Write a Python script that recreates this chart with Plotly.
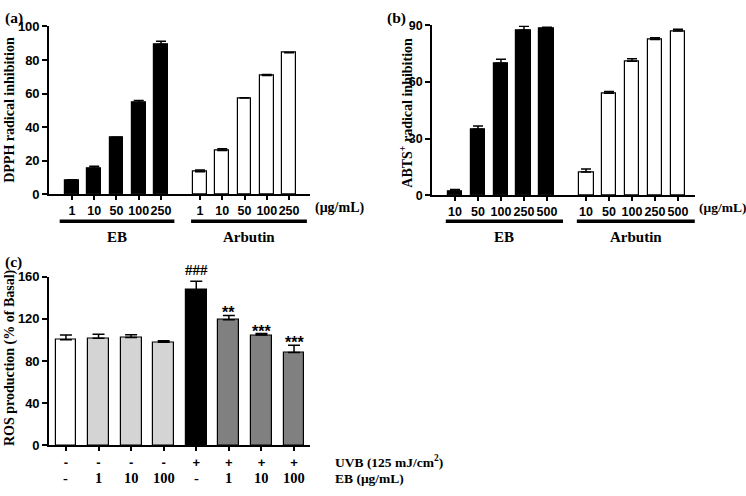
import plotly.graph_objects as go

W, H = 746, 496

# ---------------- data ----------------
dpph_conc = ["1", "10", "50", "100", "250"]
dpph_eb = [8.0, 15.5, 33.7, 54.5, 89.2]
dpph_eb_err = [0.6, 1.2, 0.3, 1.3, 2.0]
dpph_ar = [13.3, 26.0, 57.3, 70.8, 84.3]
dpph_ar_err = [1.1, 1.0, 0.2, 0.5, 0.2]

abts_conc = ["10", "50", "100", "250", "500"]
abts_eb = [2.0, 35.0, 70.0, 87.5, 88.5]
abts_eb_err = [1.0, 1.7, 2.0, 2.0, 0.6]
abts_ar = [12.3, 54.0, 71.0, 82.5, 87.0]
abts_ar_err = [1.5, 1.0, 1.3, 1.0, 1.0]

ros_uvb = ["-", "-", "-", "-", "+", "+", "+", "+"]
ros_eb = ["-", "1", "10", "100", "-", "1", "10", "100"]
ros_val = [100.0, 101.5, 102.3, 97.8, 147.5, 119.0, 104.5, 88.0]
ros_err = [4.5, 3.8, 2.5, 1.3, 8.0, 4.2, 1.5, 7.0]
ros_sig = ["", "", "", "", "###", "**", "***", "***"]
ros_colors = ["#ffffff", "#d4d4d4", "#d4d4d4", "#d4d4d4", "#000000", "#808080", "#808080", "#808080"]

groups = ["EB", "Arbutin"]

# ---------------- helpers ----------------
def fx(px):
    return px / W

def fy(py):
    return 1 - py / H

SERIF = "Liberation Serif"
SANS = "Liberation Sans"

fig = go.Figure()

def add_group_bars(xaxis, yaxis, xs, vals, errs, color, width):
    fig.add_trace(go.Bar(
        x=xs, y=vals, xaxis=xaxis, yaxis=yaxis, width=width,
        marker=dict(color=color, line=dict(color="black", width=1.2)),
        error_y=dict(type="data", symmetric=False, array=errs,
                     arrayminus=[0] * len(errs), color="black",
                     thickness=1.5, width=5),
        showlegend=False,
    ))

# panel (a)
gap_a = 0.75
xa_eb = list(range(len(dpph_conc)))
xa_ar = [i + len(dpph_conc) + gap_a for i in range(len(dpph_conc))]
add_group_bars("x", "y", xa_eb, dpph_eb, dpph_eb_err, "#000000", 0.62)
add_group_bars("x", "y", xa_ar, dpph_ar, dpph_ar_err, "#ffffff", 0.62)

# panel (b)
gap_b = 0.7
xb_eb = list(range(len(abts_conc)))
xb_ar = [i + len(abts_conc) + gap_b for i in range(len(abts_conc))]
add_group_bars("x2", "y2", xb_eb, abts_eb, abts_eb_err, "#000000", 0.65)
add_group_bars("x2", "y2", xb_ar, abts_ar, abts_ar_err, "#ffffff", 0.65)

# panel (c)
xc = list(range(len(ros_val)))
fig.add_trace(go.Bar(
    x=xc, y=ros_val, xaxis="x3", yaxis="y3", width=0.64,
    marker=dict(color=ros_colors, line=dict(color="black", width=1.2)),
    error_y=dict(type="data", symmetric=False, array=ros_err,
                 arrayminus=[0] * len(ros_err), color="black",
                 thickness=1.5, width=6),
    showlegend=False,
))

axis_common = dict(showline=True, linecolor="black", linewidth=1.6,
                   ticks="outside", tickcolor="black", tickwidth=1.5,
                   showgrid=False, zeroline=False, fixedrange=True, tickangle=0)

fig.update_layout(
    width=W, height=H, margin=dict(l=0, r=0, t=0, b=0),
    paper_bgcolor="white", plot_bgcolor="white", bargap=0,
    xaxis=dict(domain=[fx(49), fx(310)], range=[-1.03, 10.69],
               tickvals=xa_eb + xa_ar, ticktext=dpph_conc + dpph_conc,
               ticklen=4, tickfont=dict(family=SANS, size=12.5, weight="bold", color="black"),
               anchor="y", **axis_common),
    yaxis=dict(domain=[fy(193), fy(20)], range=[0, 100], dtick=20, ticklen=5,
               tickfont=dict(family=SANS, size=13, weight="bold", color="black"),
               anchor="x", **axis_common),
    xaxis2=dict(domain=[fx(432), fx(695)], range=[-1.0, 10.44],
                tickvals=xb_eb + xb_ar, ticktext=abts_conc + abts_conc,
                ticklen=4, tickfont=dict(family=SANS, size=12.5, weight="bold", color="black"),
                anchor="y2", **axis_common),
    yaxis2=dict(domain=[fy(194), fy(19)], range=[0, 90], dtick=30, ticklen=5,
                tickfont=dict(family=SANS, size=12.5, weight="bold", color="black"),
                anchor="x2", **axis_common),
    xaxis3=dict(domain=[fx(49), fx(310)], range=[-0.52, 7.49],
                tickvals=xc, ticktext=ros_uvb,
                ticklen=4, tickfont=dict(family=SANS, size=13, weight="bold", color="black"),
                anchor="y3", **axis_common),
    yaxis3=dict(domain=[fy(452), fy(278)], range=[0, 160], dtick=40, ticklen=5,
                tickfont=dict(family=SANS, size=13, weight="bold", color="black"),
                anchor="x3", **axis_common),
)

ann = []
shapes = []

def label(x, y, text, size=14, xanchor="center", angle=0, family=SERIF, xref="paper", yref="paper", **kw):
    ann.append(dict(x=x, y=y, xref=xref, yref=yref, text=text, showarrow=False,
                    xanchor=xanchor, yanchor=kw.pop("yanchor", "middle"), textangle=angle,
                    font=dict(family=family, size=size, color="black", weight="bold"), **kw))

# panel letters
label(fx(3), fy(11), "(a)", size=15.5, xanchor="left")
label(fx(385), fy(11), "(b)", size=15.5, xanchor="left")
label(fx(3), fy(263), "(c)", size=15.5, xanchor="left")

# y-axis titles
label(fx(10), fy(106), "DPPH radical inhibition", size=14, angle=-90)
label(fx(406), fy(109), "ABTS<sup>+</sup> radical inhibition", size=14, angle=-90)
label(fx(10), fy(362), "ROS production (% of Basal)", size=14, angle=-90)

# unit labels
label(fx(313), fy(207), "(μg/mL)", size=14, xanchor="left")
label(fx(697), fy(207), "(μg/mL)", size=13.5, xanchor="left")

# group bars + labels
def group_line(xref, x0, x1, text):
    shapes.append(dict(type="line", xref=xref, yref="paper", x0=x0, x1=x1,
                       y0=fy(221), y1=fy(221), line=dict(color="black", width=3.5)))
    label((x0 + x1) / 2, fy(237), text, size=15, xref=xref)

group_line("x", xa_eb[0] - 0.55, xa_eb[-1] + 0.6, groups[0])
group_line("x", xa_ar[0] - 0.4, xa_ar[-1] + 0.8, groups[1])
group_line("x2", xb_eb[0] - 0.4, xb_eb[-1] + 0.7, groups[0])
group_line("x2", xb_ar[0] - 0.4, xb_ar[-1] + 0.73, groups[1])

# significance marks
for i, s in enumerate(ros_sig):
    if s:
        label(xc[i], ros_val[i] + ros_err[i], s, size=15 if s.startswith("#") else 16,
              family=SANS if s.startswith("*") else SERIF,
              xref="x3", yref="y3", yanchor="bottom",
              yshift=(1 if s.startswith("#") else -8))

# second row of panel (c) category labels (EB dose)
for i, e in enumerate(ros_eb):
    label(xc[i], fy(486), e, size=14.5, xref="x3")

# row labels for panel (c)
label(fx(333), fy(469), "UVB (125 mJ/cm<sup>2</sup>)", size=13.5, xanchor="left")
label(fx(333), fy(486), "EB (μg/mL)", size=13.5, xanchor="left")

fig.update_layout(annotations=ann, shapes=shapes)
fig.write_html("out.html", config={"displayModeBar": False},
               post_script="document.body.style.margin='0';document.body.style.overflow='hidden';")
